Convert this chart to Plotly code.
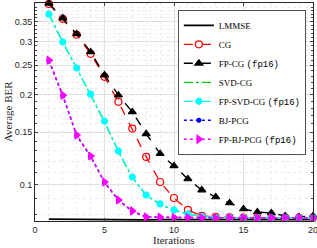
import plotly.graph_objects as go

iterations = list(range(1, 21))

lmmse = [0.0770, 0.0769, 0.0768, 0.0768, 0.0767, 0.0767, 0.0766, 0.0766, 0.0767, 0.0767,
         0.0766, 0.0767, 0.0767, 0.0766, 0.0767, 0.0767, 0.0766, 0.0767, 0.0767, 0.0767]
cg = [0.400, 0.357, 0.316, 0.273, 0.229, 0.189, 0.154, 0.124, 0.1023, 0.0905,
      0.0826, 0.0789, 0.0783, 0.0780, 0.0779, 0.0779, 0.0778, 0.0778, 0.0778, 0.0778]
fp_cg = [0.402, 0.359, 0.318, 0.277, 0.232, 0.199, 0.175, 0.148, 0.127, 0.1157,
         0.1047, 0.0962, 0.0912, 0.0871, 0.0832, 0.0813, 0.0807, 0.0789, 0.0783, 0.0789]
svd_cg = [0.369, 0.298, 0.244, 0.2000, 0.162, 0.1290, 0.1058, 0.0922, 0.0862, 0.0823,
          0.0800, 0.0785, 0.0780, 0.0779, 0.0778, 0.0778, 0.0778, 0.0778, 0.0778, 0.0778]
fp_svd_cg = [0.370, 0.299, 0.245, 0.2005, 0.163, 0.1297, 0.1063, 0.0926, 0.0865, 0.0826,
             0.0801, 0.0786, 0.0781, 0.0779, 0.0779, 0.0778, 0.0778, 0.0778, 0.0778, 0.0778]
bj_pcg = [0.259, 0.198, 0.1460, 0.1245, 0.1020, 0.0890, 0.0818, 0.0782, 0.0780, 0.0779,
          0.0778, 0.0778, 0.0778, 0.0778, 0.0778, 0.0778, 0.0778, 0.0778, 0.0778, 0.0778]
fp_bj_pcg = [0.260, 0.199, 0.1466, 0.1249, 0.1023, 0.0892, 0.0820, 0.0783, 0.0781, 0.0779,
             0.0779, 0.0778, 0.0778, 0.0778, 0.0778, 0.0778, 0.0778, 0.0778, 0.0778, 0.0778]

x_ticks = [0, 5, 10, 15, 20]
y_ticks = [0.1, 0.15, 0.2, 0.25, 0.3, 0.35]
y_tick_text = ["0.1", "0.15", "0.2", "0.25", "0.3", "0.35"]
y_minor = [0.08, 0.09, 0.11, 0.12, 0.13, 0.14, 0.16, 0.17, 0.18, 0.19, 0.21, 0.22, 0.23, 0.24,
           0.26, 0.27, 0.28, 0.29, 0.31, 0.32, 0.33, 0.34, 0.36, 0.37, 0.38, 0.39, 0.40]

TT = "<span style='font-family:Liberation Mono'>(fp16)</span>"
series = [
    ("LMMSE", lmmse, "black", "solid", None, 1.8, "white", 0),
    ("CG", cg, "red", "dash", "circle-open", 1.3, "red", 7),
    ("FP-CG " + TT, fp_cg, "black", "dash", "triangle-up", 1.4, "black", 7),
    ("SVD-CG", svd_cg, "#00cc00", "dashdot", None, 1.2, "#00cc00", 0),
    ("FP-SVD-CG " + TT, fp_svd_cg, "cyan", "dashdot", "circle", 1.3, "cyan", 6),
    ("BJ-PCG", bj_pcg, "blue", "dot", "circle", 1.5, "blue", 4),
    ("FP-BJ-PCG " + TT, fp_bj_pcg, "magenta", "dot", "triangle-right", 1.5, "magenta", 7),
]

fig = go.Figure()
for name, ys, col, dash, sym, lw, mcol, ms in series:
    mode = "lines+markers" if sym else "lines"
    kw = dict(x=iterations, y=ys, name=name, mode=mode, cliponaxis=False,
              line=dict(color=col, dash=dash, width=lw))
    if sym:
        kw["marker"] = dict(symbol=sym, size=ms, color=mcol,
                            line=dict(color=mcol, width=1.2))
    fig.add_trace(go.Scatter(**kw))

fig.update_layout(
    width=317, height=248,
    margin=dict(l=35, r=4, t=3, b=27, autoexpand=False),
    plot_bgcolor="white", paper_bgcolor="white",
    font=dict(family="Liberation Serif", size=10, color="#262626"),
    legend=dict(x=0.975, y=0.968, xanchor="right", yanchor="top",
                bgcolor="white", bordercolor="#262626", borderwidth=0.8,
                font=dict(family="Liberation Serif", size=9, color="black"),
                itemwidth=30, tracegroupgap=0),
    annotations=[
        dict(text="Iterations", xref="paper", yref="paper", x=0.5, y=-0.088,
             xanchor="center", yanchor="middle", showarrow=False,
             font=dict(family="Liberation Serif", size=11, color="#262626")),
        dict(text="Average BER", xref="paper", yref="paper", x=-0.097, y=0.5,
             xanchor="center", yanchor="middle", showarrow=False, textangle=-90,
             font=dict(family="Liberation Serif", size=11, color="#262626")),
    ],
)
fig.update_xaxes(
    range=[0, 20], tickvals=x_ticks, ticks="inside", ticklen=3, automargin=False,
    ticklabeloverflow="allow",
    showline=True, linecolor="#262626", linewidth=1, mirror="ticks",
    showgrid=True, gridcolor="#e0e0e0", gridwidth=1,
    minor=dict(dtick=1, showgrid=True, gridcolor="#ececec", griddash="dot", ticks=""),
    tickfont=dict(family="Liberation Sans", size=9, color="#262626"),
    zeroline=False,
)
fig.update_yaxes(
    type="log", range=[-1.1198, -0.3947], tickvals=y_ticks, ticktext=y_tick_text,
    ticks="inside", ticklen=3, automargin=False, ticklabeloverflow="allow",
    showline=True, linecolor="#262626", linewidth=1, mirror="ticks",
    showgrid=True, gridcolor="#e0e0e0", gridwidth=1,
    minor=dict(tickvals=y_minor, showgrid=True, gridcolor="#ececec", griddash="dot", ticks="inside", ticklen=2),
    tickfont=dict(family="Liberation Sans", size=9, color="#262626"),
    zeroline=False,
)

fig.write_html("out.html", config={"displayModeBar": False},
               post_script="document.body.style.margin='0';document.body.style.padding='0';")
